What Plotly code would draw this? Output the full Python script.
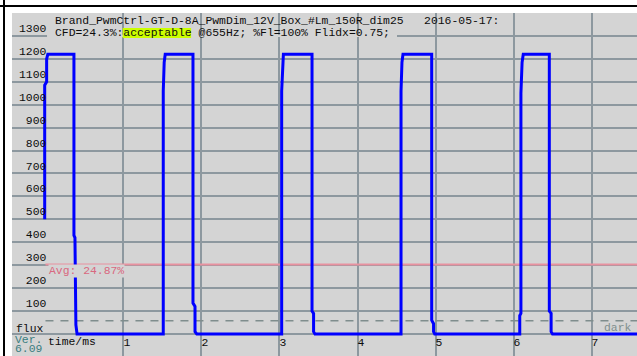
import plotly.graph_objects as go

# ---------------- data ----------------
time_ms = [-0.01, -0.01, 0.015, 0.015, 0.03, 0.365, 0.365, 0.378, 0.39, 0.405,
           1.51, 1.51, 1.522, 1.535, 1.891, 1.891, 1.917, 1.917, 1.94,
           3.028, 3.028, 3.04, 3.05, 3.417, 3.417, 3.437, 3.437, 3.455,
           4.558, 4.558, 4.57, 4.583, 4.951, 4.951, 4.975, 4.975, 4.99,
           6.08, 6.08, 6.095, 6.095, 6.11, 6.125, 6.459, 6.459, 6.482, 6.482, 6.5,
           7.6]
flux = [500, 1085, 1100, 1200, 1220, 1220, 430, 420, 40, 0,
        0, 1060, 1185, 1220, 1220, 135, 120, 10, 0,
        0, 1060, 1185, 1220, 1220, 100, 90, 10, 0,
        0, 1060, 1185, 1220, 1220, 60, 45, 10, 0,
        0, 80, 90, 1050, 1185, 1220, 1220, 100, 90, 10, 0,
        0]
avg_flux = 303
avg_label = "Avg: 24.87%"
dark_level = 58
x_tickvals = [0, 1, 2, 3, 4, 5, 6, 7]
x_ticktext = ["", "1", "2", "3", "4", "5", "6", "7"]
x_axis_name = "time/ms"
y_tickvals = [0, 100, 200, 300, 400, 500, 600, 700, 800, 900, 1000, 1100, 1200, 1300]
y_ticktext = ["", "100", "200", "300", "400", "500", "600", "700", "800", "900",
              "1000", "1100", "1200", "1300"]
y_axis_name = "flux"
x_range = [-0.429, 7.583]
y_range = [-96, 1400]
title_line1 = "Brand_PwmCtrl-GT-D-8A_PwmDim_12V_Box_#Lm_150R_dim25   2016-05-17:"
title_line2 = "CFD=24.3%:acceptable @655Hz; %Fl=100% Flidx=0.75;"
highlight_word = "acceptable"

# ---------------- layout helpers ----------------
W, H = 637, 356
L, R, T, B = 12, 0, 13, 0
PW, PH = W - L - R, H - T - B
def px_x(px):
    return (px - L) / PW
def px_y(py):
    return (H - B - py) / PH

BG = "#d4d4d4"
GRID = "#8d989f"
MONO = "Liberation Mono"
FS = 11.4
NB = "\u00a0"
INK = "#0d0d0d"

fig = go.Figure()
fig.add_trace(go.Scatter(x=[0, x_range[1]], y=[dark_level, dark_level], mode="lines",
                         line=dict(color="#7f8d8d", width=1.5, dash="8px,7px"),
                         hoverinfo="skip", showlegend=False))
fig.add_trace(go.Scatter(x=[0, x_range[1]], y=[avg_flux, avg_flux], mode="lines",
                         line=dict(color="#e8919f", width=2),
                         hoverinfo="skip", showlegend=False))
fig.add_trace(go.Scatter(x=time_ms, y=flux, mode="lines",
                         line=dict(color="#0000ff", width=3),
                         showlegend=False))

ann = []
def text(px, py, s, color=INK, xanchor="left"):
    ann.append(dict(xref="paper", yref="paper", x=px_x(px), y=px_y(py), text=s,
                    showarrow=False, xanchor=xanchor, yanchor="middle",
                    font=dict(family=MONO, size=FS, color=color), borderpad=0))

cw = FS * 0.6
x0 = 54.3
text(x0, 21, title_line1.replace(" ", NB))
text(x0, 32.5, title_line2.replace(" ", NB))
ann.append(dict(xref="paper", yref="y", x=px_x(47.5), y=avg_flux, yshift=-6.5,
                text=avg_label, showarrow=False, xanchor="left", yanchor="middle",
                font=dict(family=MONO, size=FS, color="#d9687f"), bgcolor=BG, borderpad=0))
ann.append(dict(xref="paper", yref="y", x=px_x(633), y=dark_level, yshift=-7.5,
                text="dark", showarrow=False, xanchor="right", yanchor="middle", borderpad=0,
                font=dict(family=MONO, size=FS, color="#7f8f8f")))
ann.append(dict(xref="paper", yref="y", x=px_x(44.5), y=0, yshift=4.5,
                text=y_axis_name, showarrow=False, xanchor="right", yanchor="middle", borderpad=0,
                font=dict(family=MONO, size=FS, color=INK)))
ann.append(dict(xref="x", yref="paper", x=0, xshift=2, y=px_y(342), 
                text=x_axis_name, showarrow=False, xanchor="left", yanchor="middle", borderpad=0,
                font=dict(family=MONO, size=FS, color=INK)))
text(14, 339.5, "Ver.", color="#3a7d80")
text(14, 348.5, "6.09", color="#3a7d80")

hl_start = x0 + title_line2.index(highlight_word) * cw
hl_end = hl_start + len(highlight_word) * cw
shapes = [
    # outer frame lines
    dict(type="line", xref="paper", yref="paper", x0=px_x(0), x1=px_x(W), y0=px_y(6), y1=px_y(6),
         line=dict(color="black", width=2)),
    dict(type="line", xref="paper", yref="paper", x0=px_x(4), x1=px_x(4), y0=px_y(0), y1=px_y(H),
         line=dict(color="black", width=2)),
    # highlight behind "acceptable"
    dict(type="rect", xref="paper", yref="paper", x0=px_x(hl_start), x1=px_x(hl_end),
         y0=px_y(38), y1=px_y(28), fillcolor="#ccff00", line=dict(width=0), layer="above"),
    # 1300 gridline is hidden behind the title text
    dict(type="rect", xref="x", yref="y", x0=0.02, x1=(397 - 45.5) / 78, y0=1295, y1=1305,
         fillcolor=BG, line=dict(width=0), layer="between"),
]

fig.update_layout(
    width=W, height=H,
    margin=dict(l=L, r=R, t=T, b=B, pad=0),
    paper_bgcolor="white", plot_bgcolor=BG,
    showlegend=False,
    annotations=ann, shapes=shapes,
    xaxis=dict(range=x_range, tickvals=x_tickvals, ticktext=x_ticktext,
               showgrid=True, gridcolor=GRID, gridwidth=1.5,
               zeroline=True, zerolinecolor="#8e9dab", zerolinewidth=2.5,
               showline=False, ticks="", side="bottom",
               ticklabelposition="inside right", ticklabelstandoff=2,
               tickfont=dict(family=MONO, size=FS, color=INK)),
    yaxis=dict(range=y_range, tickvals=y_tickvals,
               ticktext=[NB * (4 - len(t)) + t if t else t for t in y_ticktext],
               showgrid=True, gridcolor=GRID, gridwidth=1.5,
               zeroline=True, zerolinecolor=GRID, zerolinewidth=1.5,
               showline=False, ticks="", side="left",
               ticklabelposition="inside top", ticklabelstandoff=4,
               tickfont=dict(family=MONO, size=FS, color=INK)),
)

fig.write_html("out.html")
